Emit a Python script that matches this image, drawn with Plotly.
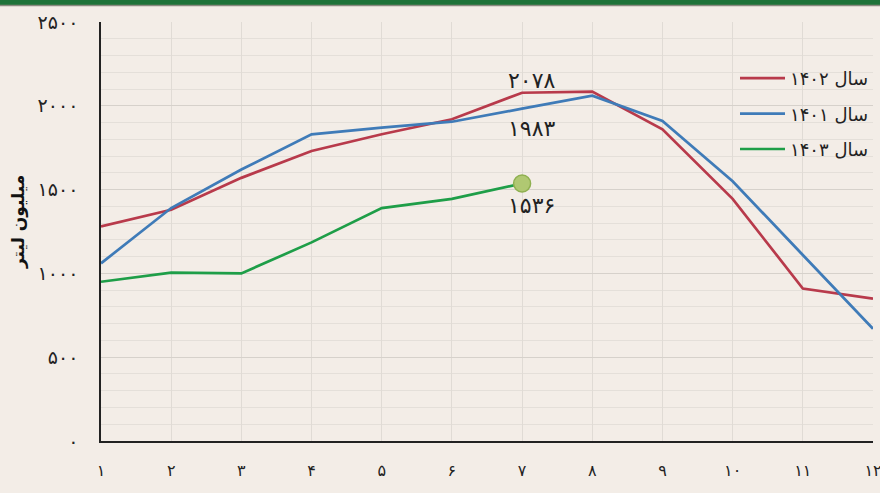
import plotly.graph_objects as go

months = list(range(1, 13))
month_labels = ["۱", "۲", "۳", "۴", "۵", "۶", "۷", "۸", "۹", "۱۰", "۱۱", "۱۲"]

y1402 = [1280, 1380, 1570, 1730, 1830, 1920, 2078, 2085, 1860, 1445, 910, 850]
y1401 = [1060, 1390, 1620, 1830, 1870, 1905, 1983, 2060, 1910, 1550, 1110, 670]
y1403 = [950, 1005, 1000, 1185, 1390, 1445, 1536]

ytick_vals = [0, 500, 1000, 1500, 2000, 2500]
ytick_text = ["۰", "۵۰۰", "۱۰۰۰", "۱۵۰۰", "۲۰۰۰", "۲۵۰۰"]

names = ["سال ۱۴۰۲", "سال ۱۴۰۱", "سال ۱۴۰۳"]
colors = ["#b83a4b", "#3f7bb8", "#1e9e48"]

FONT = "DejaVu Sans"
BG = "#f3ede7"

fig = go.Figure()
for name, ys, col, grp in zip(names, [y1402, y1401, y1403], colors, ["a", "b", "c"]):
    fig.add_trace(go.Scatter(x=months[:len(ys)], y=ys, mode="lines", name=name,
                             legendgroup=grp,
                             line=dict(color=col, width=2.7), hoverinfo="skip"))

fig.add_trace(go.Scatter(x=[months[len(y1403) - 1]], y=[y1403[-1]], mode="markers",
                         showlegend=False, hoverinfo="skip",
                         marker=dict(size=17, color="#b0c872", line=dict(color="#8fb050", width=1.5))))

anns = [
    dict(x=7, y=y1402[6], text="۲۰۷۸", xshift=9, yshift=12),
    dict(x=7, y=y1401[6], text="۱۹۸۳", xshift=9, yshift=-20),
    dict(x=7, y=y1403[6], text="۱۵۳۶", xshift=9, yshift=-22),
]
for a in anns:
    fig.add_annotation(**a, showarrow=False, font=dict(family=FONT, size=22, color="#222"))

L, R, T, B = 101, 7, 22, 52
W, H = 880, 493
pw, ph = W - L - R, H - T - B

fig.add_annotation(text="<b>میلیون لیتر</b>", textangle=-90, showarrow=False,
                   xref="paper", yref="paper", x=(18 - L) / pw, y=(441 - 222) / ph,
                   xanchor="center", yanchor="middle",
                   font=dict(family=FONT, size=17, color="#111"))

# top green band
fig.add_shape(type="rect", xref="paper", yref="paper",
              x0=-L / pw - 0.01, x1=1 + R / pw + 0.01,
              y0=1 + (T - 5) / ph, y1=1 + (T + 2) / ph,
              fillcolor="#1e7339", line=dict(width=0), layer="above")
fig.add_shape(type="line", xref="paper", yref="paper",
              x0=-L / pw - 0.01, x1=1 + R / pw + 0.01,
              y0=1 + (T - 5.5) / ph, y1=1 + (T - 5.5) / ph,
              line=dict(color="#8a8a80", width=1.5), layer="above")

fig.update_layout(
    width=W, height=H,
    margin=dict(l=L, r=R, t=T, b=B, autoexpand=False),
    paper_bgcolor=BG, plot_bgcolor=BG,
    font=dict(family=FONT, color="#222"),
    showlegend=True,
    legend=dict(x=(743 - 8 - L) / pw, y=1 - (60 - T) / ph, xanchor="left", yanchor="top",
                bgcolor="rgba(0,0,0,0)", font=dict(family=FONT, size=18, color="#222"),
                tracegroupgap=9, itemwidth=45),
    xaxis=dict(range=[1, 12], tickvals=months, ticktext=month_labels,
               showgrid=True, gridcolor="#e0dbd5", gridwidth=1,
               showline=True, linecolor="#222", linewidth=1.5,
               ticks="", ticklabelstandoff=14, zeroline=False,
               ticklabeloverflow="allow",
               tickfont=dict(family=FONT, size=16, color="#222")),
    yaxis=dict(range=[0, 2500], tickvals=ytick_vals, ticktext=ytick_text,
               showgrid=True, gridcolor="#d6d1cb", gridwidth=1.2,
               minor=dict(dtick=100, showgrid=True, gridcolor="#e4dfd9", gridwidth=1),
               showline=True, linecolor="#222", linewidth=1.5,
               ticks="", ticklabelstandoff=17, zeroline=False,
               tickfont=dict(family=FONT, size=19, color="#222")),
)

fig.write_html("out.html", config={"displayModeBar": False},
               post_script="document.body.style.margin='0';document.body.style.background='%s';" % BG)
